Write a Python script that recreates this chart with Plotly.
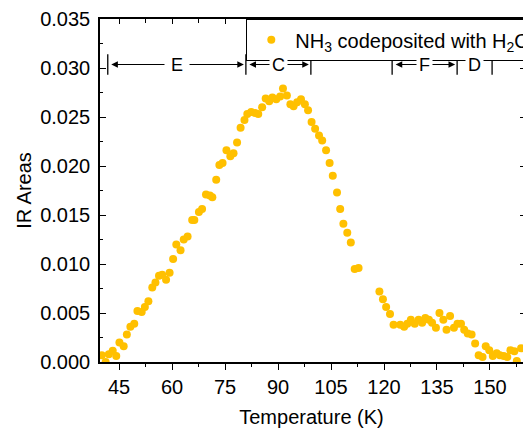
import plotly.graph_objects as go

# Temperature (K) and IR band areas
temperature = [40.1, 41.2, 42.1, 43.2, 44.2, 45.1, 46.3, 47.2, 48.2, 49.3,
               50.2, 51.4, 52.3, 53.3, 54.4, 55.3, 56.3, 57.2, 58.3, 59.3,
               60.3, 61.2, 62.4, 63.3, 64.4, 65.7, 66.3, 67.6, 68.5, 69.6,
               70.7, 71.4, 72.5, 73.4, 74.3, 75.4, 76.5, 77.4, 78.4, 79.4,
               80.5, 81.3, 82.4, 83.5, 84.4, 85.5, 86.5, 87.5, 88.4, 89.5,
               90.6, 91.4, 92.5, 93.5, 94.4, 95.4, 96.5, 97.6, 98.5, 99.5,
               100.5, 101.6, 102.5, 103.6, 104.6, 105.5, 106.7, 107.6, 108.5, 109.6,
               110.6, 111.7, 112.8, 118.7, 119.7, 120.6, 121.7, 122.7, 124.6, 125.7,
               126.6, 127.6, 128.7, 129.8, 130.8, 131.7, 132.7, 133.6, 134.7, 135.7,
               136.8, 137.7, 138.7, 139.8, 140.8, 141.8, 142.7, 143.7, 144.8, 145.8,
               146.8, 147.9, 148.8, 149.8, 150.8, 151.9, 152.8, 153.9, 154.9, 155.8,
               156.9, 157.6, 158.8]
ir_area = [0.0007, 0.0000, 0.0008, 0.00115, 0.0006, 0.0020, 0.0016, 0.0028, 0.0036, 0.0039,
           0.0052, 0.0051, 0.0056, 0.0062, 0.0076, 0.0081, 0.0088, 0.0089, 0.0084, 0.0091,
           0.0105, 0.0120, 0.0114, 0.0125, 0.0128, 0.0145, 0.0145, 0.0153, 0.0156, 0.0171,
           0.0170, 0.0168, 0.0186, 0.0201, 0.0203, 0.0216, 0.0210, 0.0213, 0.0224, 0.0239,
           0.0247, 0.0253, 0.0255, 0.0254, 0.0253, 0.0260, 0.0269, 0.0266, 0.0270, 0.0268,
           0.0271, 0.0279, 0.0272, 0.0263, 0.0261, 0.0265, 0.0268, 0.0263, 0.0257, 0.0245,
           0.0238, 0.0231, 0.0226, 0.0216, 0.0203, 0.0190, 0.0173, 0.0156, 0.0141, 0.0132,
           0.0122, 0.0095, 0.0096, 0.0072, 0.0064, 0.0056, 0.0049, 0.0038, 0.0038, 0.0036,
           0.0039, 0.0043, 0.0039, 0.0043, 0.0040, 0.0045, 0.0043, 0.0040, 0.0035, 0.0050,
           0.0043, 0.0033, 0.0047, 0.0035, 0.0039, 0.0039, 0.0033, 0.0029, 0.0028, 0.0019,
           0.0007, 0.0005, 0.0016, 0.0012, 0.0006, 0.0009, 0.0007, 0.0006, 0.0005, 0.0012,
           0.0011, 0.0001, 0.0014]

series_name = "NH<sub>3</sub> codeposited with H<sub>2</sub>O"

# Temperature regions marked above the data
region_labels = ["E", "C", "F", "D"]
region_start = [41.8, 80.9, 122.3, 140.7]
region_end = [80.9, 99.3, 140.7, 150.6]
region_has_arrows = [True, True, True, False]
region_label_pad = [6, 2, 2, 2]
bracket_low, bracket_high, arrow_level = 0.0293, 0.0314, 0.03035

x_range = [39.6, 159.35]
y_range = [0, 0.035]

FONT = "Arial, Liberation Sans, sans-serif"
MARKER_COLOR = "#FFC000"

fig = go.Figure()
fig.add_trace(go.Scatter(x=temperature, y=ir_area, mode="markers",
                         marker=dict(color=MARKER_COLOR, size=8),
                         name=series_name, cliponaxis=True))
# empty trace to hold the mirror (top/right) tick axes
fig.add_trace(go.Scatter(x=[], y=[], xaxis="x2", yaxis="y2",
                         showlegend=False, hoverinfo="skip"))

shapes = []
annotations = []
edges = sorted(set(region_start + region_end))
for e in edges:
    shapes.append(dict(type="line", xref="x", yref="y", x0=e, x1=e,
                       y0=bracket_low, y1=bracket_high,
                       line=dict(color="black", width=1.3)))
for lab, s, e, arr, pad in zip(region_labels, region_start, region_end,
                               region_has_arrows, region_label_pad):
    if arr:
        annotations.append(dict(x=e, y=arrow_level, ax=s, ay=arrow_level,
                                xref="x", yref="y", axref="x", ayref="y",
                                text="", showarrow=True, arrowhead=2,
                                startarrowhead=2, arrowside="end+start",
                                arrowsize=1.2, startarrowsize=1.2,
                                arrowwidth=1.1, standoff=2, startstandoff=2,
                                arrowcolor="black"))
    annotations.append(dict(x=(s + e) / 2, y=arrow_level, xref="x", yref="y",
                            text=lab, showarrow=False, bgcolor="white",
                            borderpad=pad,
                            font=dict(family=FONT, size=18, color="black")))

tickfont = dict(family=FONT, size=20, color="black")
fig.update_layout(
    width=523, height=435,
    margin=dict(l=100, r=0, t=19, b=73, autoexpand=False),
    paper_bgcolor="white", plot_bgcolor="white",
    font=dict(family=FONT, size=20, color="black"),
    showlegend=True,
    legend=dict(x=(246 - 100) / 423, y=1, xanchor="left", yanchor="top",
                bgcolor="white", bordercolor="black", borderwidth=1.3,
                font=dict(family=FONT, size=20, color="black"),
                itemwidth=38),
    xaxis=dict(range=x_range, showline=True, linecolor="black", linewidth=1.5,
               ticks="outside", ticklen=6, tickwidth=1.3, tickcolor="black",
               tick0=0, dtick=15, showgrid=False, zeroline=False,
               tickfont=tickfont,
               minor=dict(ticks="outside", ticklen=3, tickwidth=1.3,
                          tickcolor="black", dtick=7.5, tick0=0, showgrid=False),
               title=dict(text="Temperature (K)", standoff=13,
                          font=dict(family=FONT, size=20, color="black"))),
    yaxis=dict(range=y_range, showline=True, linecolor="black", linewidth=1.5,
               ticks="inside", ticklen=6, tickwidth=1.3, tickcolor="black",
               tick0=0, dtick=0.005, tickformat=".3f", showgrid=False,
               zeroline=False, tickfont=tickfont, ticklabelstandoff=4,
               minor=dict(ticks="inside", ticklen=3, tickwidth=1.3,
                          tickcolor="black", dtick=0.0025, tick0=0, showgrid=False),
               title=dict(text="IR Areas", standoff=3,
                          font=dict(family=FONT, size=20, color="black"))),
    xaxis2=dict(range=x_range, overlaying="x", side="top", anchor="y2",
                showline=True, linecolor="black", linewidth=1.5,
                ticks="inside", ticklen=5, tickwidth=1.3, tickcolor="black",
                tick0=0, dtick=15, showticklabels=False, showgrid=False,
                zeroline=False,
                minor=dict(ticks="inside", ticklen=4, tickwidth=1.3,
                           tickcolor="black", dtick=7.5, tick0=0, showgrid=False)),
    yaxis2=dict(range=y_range, overlaying="y", side="right", anchor="x2",
                showline=False, ticks="inside", ticklen=3, tickwidth=1.3,
                tickcolor="black", tick0=0, dtick=0.005,
                showticklabels=False, showgrid=False, zeroline=False),
    shapes=shapes,
    annotations=annotations,
)

fig.write_html("out.html")
